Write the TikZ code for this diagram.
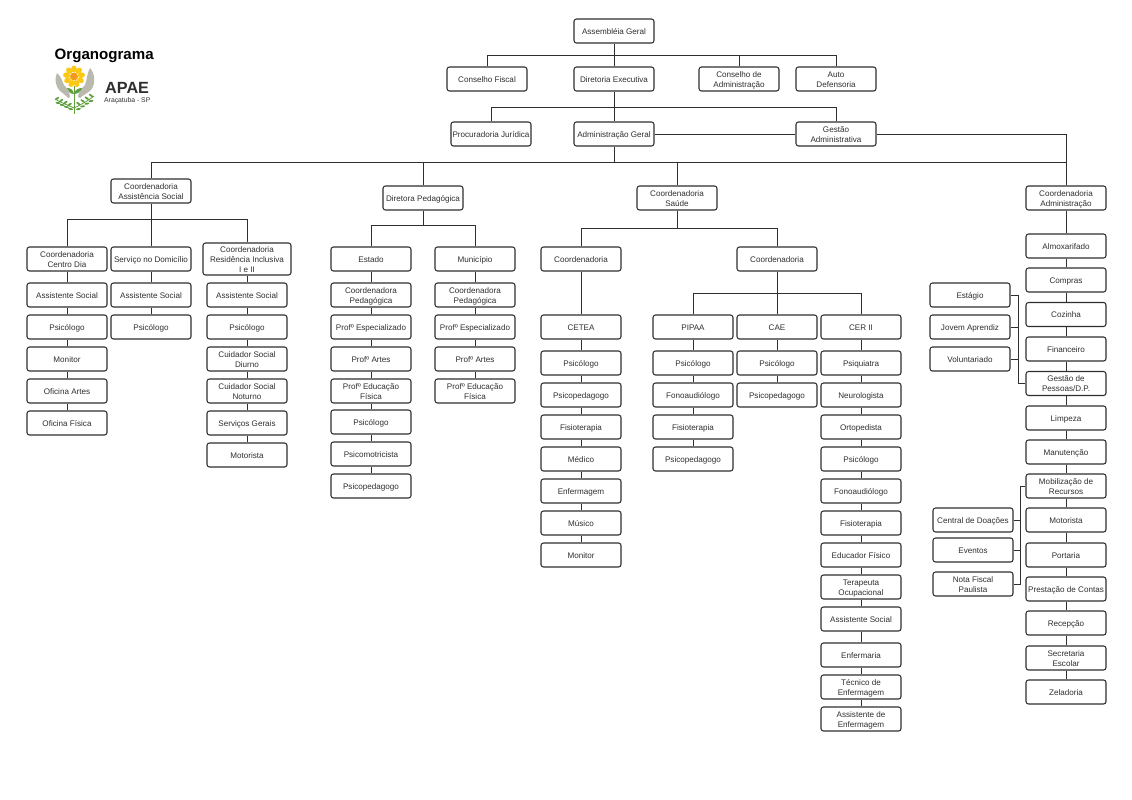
\documentclass[tikz,border=0pt]{standalone}
\usepackage{fontspec}
\setmainfont{Liberation Sans}
\definecolor{ink}{HTML}{2F2F2F}
\definecolor{petal}{HTML}{FBC814}
\definecolor{core}{HTML}{F39A1E}
\definecolor{hand}{HTML}{B9B9AE}
\definecolor{leaf}{HTML}{5E9E3C}
\tikzset{
  x=1pt,y=-1pt,
  box/.style={draw=ink,line width=1.05pt,rounded corners=2.5pt,fill=white,minimum width=80pt,minimum height=24pt,
    inner sep=0pt,text=ink,font=\fontsize{8.1}{10}\selectfont},
  wire/.style={draw=ink,line width=.95pt},
  lbl/.style={inner sep=0pt,anchor=base west,text=black}
}
\newcommand{\bx}[5][]{\node[box,#1] (#2) at (#3,#4) {\raisebox{-1.1pt}[\height][\depth]{\begin{tabular}{@{}c@{}}#5\end{tabular}}};}
\begin{document}
\begin{tikzpicture}
\useasboundingbox (0,0) rectangle (1132,800);
\fill[white] (0,0) rectangle (1132,800);
% top
\bx{ag}{614}{31}{Assembléia Geral}
\bx{cf}{487}{79}{Conselho Fiscal}
\bx{de}{614}{79}{Diretoria Executiva}
\bx{ca}{739}{79}{Conselho de\\Administração}
\bx{ad}{836}{79}{Auto\\Defensoria}
\bx{pj}{491}{134}{Procuradoria Jurídica}
\bx{adm}{614}{134}{Administração Geral}
\bx{ga}{836}{134}{Gestão\\Administrativa}
\bx{cas}{151}{191}{Coordenadoria\\Assistência Social}
\bx{dp}{423}{198}{Diretora Pedagógica}
\bx{cs}{677}{198}{Coordenadoria\\Saúde}
\bx{cad}{1066}{198}{Coordenadoria\\Administração}
% assistencia
\bx{ccd}{67}{259}{Coordenadoria\\Centro Dia}
\bx{sd}{151}{259}{Serviço no Domicílio}
\bx[minimum width=88pt,minimum height=32pt]{cri}{247}{259}{Coordenadoria\\Residência Inclusiva\\I e II}
\bx{a1}{67}{295}{Assistente Social}
\bx{a2}{67}{327}{Psicólogo}
\bx{a3}{67}{359}{Monitor}
\bx{a4}{67}{391}{Oficina Artes}
\bx{a5}{67}{423}{Oficina Física}
\bx{b1}{151}{295}{Assistente Social}
\bx{b2}{151}{327}{Psicólogo}
\bx{c1}{247}{295}{Assistente Social}
\bx{c2}{247}{327}{Psicólogo}
\bx{c3}{247}{359}{Cuidador Social\\Diurno}
\bx{c4}{247}{391}{Cuidador Social\\Noturno}
\bx{c5}{247}{423}{Serviços Gerais}
\bx{c6}{247}{455}{Motorista}
% pedagogica
\bx{est}{371}{259}{Estado}
\bx{mun}{475}{259}{Município}
\bx{d1}{371}{295}{Coordenadora\\Pedagógica}
\bx{d2}{371}{327}{Profº Especializado}
\bx{d3}{371}{359}{Profº Artes}
\bx{d4}{371}{391}{Profº Educação\\Física}
\bx{d5}{371}{422}{Psicólogo}
\bx{d6}{371}{454}{Psicomotricista}
\bx{d7}{371}{486}{Psicopedagogo}
\bx{e1}{475}{295}{Coordenadora\\Pedagógica}
\bx{e2}{475}{327}{Profº Especializado}
\bx{e3}{475}{359}{Profº Artes}
\bx{e4}{475}{391}{Profº Educação\\Física}
% saude
\bx{s1}{581}{259}{Coordenadoria}
\bx{s2}{777}{259}{Coordenadoria}
\bx{cet}{581}{327}{CETEA}
\bx{f1}{581}{363}{Psicólogo}
\bx{f2}{581}{395}{Psicopedagogo}
\bx{f3}{581}{427}{Fisioterapia}
\bx{f4}{581}{459}{Médico}
\bx{f5}{581}{491}{Enfermagem}
\bx{f6}{581}{523}{Músico}
\bx{f7}{581}{555}{Monitor}
\bx{pip}{693}{327}{PIPAA}
\bx{cae}{777}{327}{CAE}
\bx{cer}{861}{327}{CER II}
\bx{g1}{693}{363}{Psicólogo}
\bx{g2}{693}{395}{Fonoaudiólogo}
\bx{g3}{693}{427}{Fisioterapia}
\bx{g4}{693}{459}{Psicopedagogo}
\bx{h1}{777}{363}{Psicólogo}
\bx{h2}{777}{395}{Psicopedagogo}
\bx{i1}{861}{363}{Psiquiatra}
\bx{i2}{861}{395}{Neurologista}
\bx{i3}{861}{427}{Ortopedista}
\bx{i4}{861}{459}{Psicólogo}
\bx{i5}{861}{491}{Fonoaudiólogo}
\bx{i6}{861}{523}{Fisioterapia}
\bx{i7}{861}{555}{Educador Físico}
\bx{i8}{861}{587}{Terapeuta\\Ocupacional}
\bx{i9}{861}{619}{Assistente Social}
\bx{i10}{861}{655}{Enfermaria}
\bx{i11}{861}{687}{Técnico de\\Enfermagem}
\bx{i12}{861}{719}{Assistente de\\Enfermagem}
% administracao
\bx{j1}{1066}{246}{Almoxarifado}
\bx{j2}{1066}{280}{Compras}
\bx{j3}{1066}{314.5}{Cozinha}
\bx{j4}{1066}{349}{Financeiro}
\bx{j5}{1066}{383.5}{Gestão de\\Pessoas/D.P.}
\bx{j6}{1066}{418}{Limpeza}
\bx{j7}{1066}{452}{Manutenção}
\bx{j8}{1066}{486}{Mobilização de\\Recursos}
\bx{j9}{1066}{520}{Motorista}
\bx{j10}{1066}{555}{Portaria}
\bx{j11}{1066}{589}{Prestação de Contas}
\bx{j12}{1066}{623}{Recepção}
\bx{j13}{1066}{658}{Secretaria\\Escolar}
\bx{j14}{1066}{692}{Zeladoria}
\bx{k1}{970}{295}{Estágio}
\bx{k2}{970}{327}{Jovem Aprendiz}
\bx{k3}{970}{359}{Voluntariado}
\bx{l1}{973}{520}{Central de Doações}
\bx{l2}{973}{550}{Eventos}
\bx{l3}{973}{584}{Nota Fiscal\\Paulista}
% bus points
\coordinate (bus1) at (614,55);
\coordinate (bus2) at (614,107);
\coordinate (bus3) at (614,162);
\coordinate (bus4) at (151,219);
\coordinate (bus5) at (423,225);
\coordinate (bus6) at (677,228);
\coordinate (bus7) at (777,293);
\coordinate (bus8) at (1018,295);
\coordinate (bus9) at (1020,486);
% connectors
\path[wire] (ag) -- (de);
\path[wire] (cf.north) |- (bus1) (ca.north) |- (bus1) (ad.north) |- (bus1);
\path[wire] (de) -- (adm);
\path[wire] (pj.north) |- (bus2) (ga.north) |- (bus2);
\path[wire] (adm) -- (ga);
\path[wire] (adm.south) -- (bus3);
\path[wire] (cas.north) |- (bus3) (dp.north) |- (bus3) (cs.north) |- (bus3);
\path[wire] (ga.east) -| (cad.north);
\path[wire] (cad.north) |- (bus3);
\path[wire] (cas) -- (sd);
\path[wire] (ccd.north) |- (bus4) (cri.north) |- (bus4);
\path[wire] (dp.south) -- (bus5);
\path[wire] (est.north) |- (bus5) (mun.north) |- (bus5);
\path[wire] (cs.south) -- (bus6);
\path[wire] (s1.north) |- (bus6) (s2.north) |- (bus6);
\path[wire] (s1) -- (cet);
\path[wire] (s2) -- (cae);
\path[wire] (pip.north) |- (bus7) (cer.north) |- (bus7);
\foreach \p/\q in {ccd/a1,a1/a2,a2/a3,a3/a4,a4/a5,sd/b1,b1/b2,cri/c1,c1/c2,c2/c3,c3/c4,c4/c5,c5/c6,
  est/d1,d1/d2,d2/d3,d3/d4,d4/d5,d5/d6,d6/d7,mun/e1,e1/e2,e2/e3,e3/e4,
  cet/f1,f1/f2,f2/f3,f3/f4,f4/f5,f5/f6,f6/f7,pip/g1,g1/g2,g2/g3,g3/g4,cae/h1,h1/h2,
  cer/i1,i1/i2,i2/i3,i3/i4,i4/i5,i5/i6,i6/i7,i7/i8,i8/i9,i9/i10,i10/i11,i11/i12,
  cad/j1,j1/j2,j2/j3,j3/j4,j4/j5,j5/j6,j6/j7,j7/j8,j8/j9,j9/j10,j10/j11,j11/j12,j12/j13,j13/j14}
  {\path[wire] (\p) -- (\q);}
\path[wire] (k1.east) -- (bus8) -- (bus8 |- j5.west) -- (j5.west);
\path[wire] (k2.east) -- (bus8 |- k2.east);
\path[wire] (k3.east) -- (bus8 |- k3.east);
\path[wire] (j8.west) -- (bus9) -- (bus9 |- l3.east) -- (l3.east);
\path[wire] (l1.east) -- (bus9 |- l1.east);
\path[wire] (l2.east) -- (bus9 |- l2.east);
% title
\node[lbl,font=\bfseries\fontsize{15.1}{18}\selectfont] (tit) at (54.5,59.5) {Organograma};
% logo: hands
\fill[hand] (57,73) .. controls (54,79) and (56,86) .. (59,90) .. controls (62,93) and (66,95) .. (68,98) -- (70,97) .. controls (70,92) and (67,88) .. (64,85) .. controls (62,81) and (61,76) .. (57,73) -- cycle;
\fill[hand] (90,68) .. controls (95,73) and (96,84) .. (91,90) .. controls (88,93) and (83,95) .. (80,98) -- (78,97) .. controls (78,92) and (82,88) .. (85,85) .. controls (87,80) and (87,73) .. (90,68) -- cycle;
% logo: stem and leaves
\draw[leaf,line width=1pt] (74,86) -- (74,114);
\fill[leaf] (74,94) .. controls (70,94) and (68,91) .. (67,88) .. controls (71,88) and (73,90) .. (74,94) -- cycle;
\fill[leaf] (74,94) .. controls (78,94) and (81,91) .. (82,88) .. controls (78,88) and (75,90) .. (74,94) -- cycle;
\draw[leaf,line width=.8pt] (55,99) .. controls (61,103) and (68,105) .. (74,108);
\draw[leaf,line width=.8pt] (94,96) .. controls (88,101) and (80,105) .. (74,108);
\foreach \t in {0,1,2,3}{
  \fill[leaf,rotate around={35:({57+\t*4.2},{98.5+\t*2})}] ({57+\t*4.2},{98.5+\t*2}) ellipse (2.5pt and 1pt);
  \fill[leaf,rotate around={-10:({58+\t*4.2},{103+\t*2})}] ({58+\t*4.2},{103+\t*2}) ellipse (2.5pt and 1pt);
  \fill[leaf,rotate around={-35:({91-\t*4.2},{95.5+\t*2.7})}] ({91-\t*4.2},{95.5+\t*2.7}) ellipse (2.5pt and 1pt);
  \fill[leaf,rotate around={10:({91-\t*4.2},{101+\t*2.7})}] ({91-\t*4.2},{101+\t*2.7}) ellipse (2.5pt and 1pt);
}
% logo: flower
\foreach \a in {0,40,...,320}
  \fill[petal,rotate around={\a:(74,76.5)}] (74,69) ellipse (2.8pt and 3.6pt);
\fill[core] (74,76.5) circle (4pt);
\node[lbl,font=\bfseries\fontsize{16.2}{20}\selectfont,text=ink] (apae) at (105,93.5) {APAE};
\node[lbl,font=\fontsize{6.8}{9}\selectfont,text=ink] (ara) at (104,102) {Araçatuba - SP};
\end{tikzpicture}
\end{document}
